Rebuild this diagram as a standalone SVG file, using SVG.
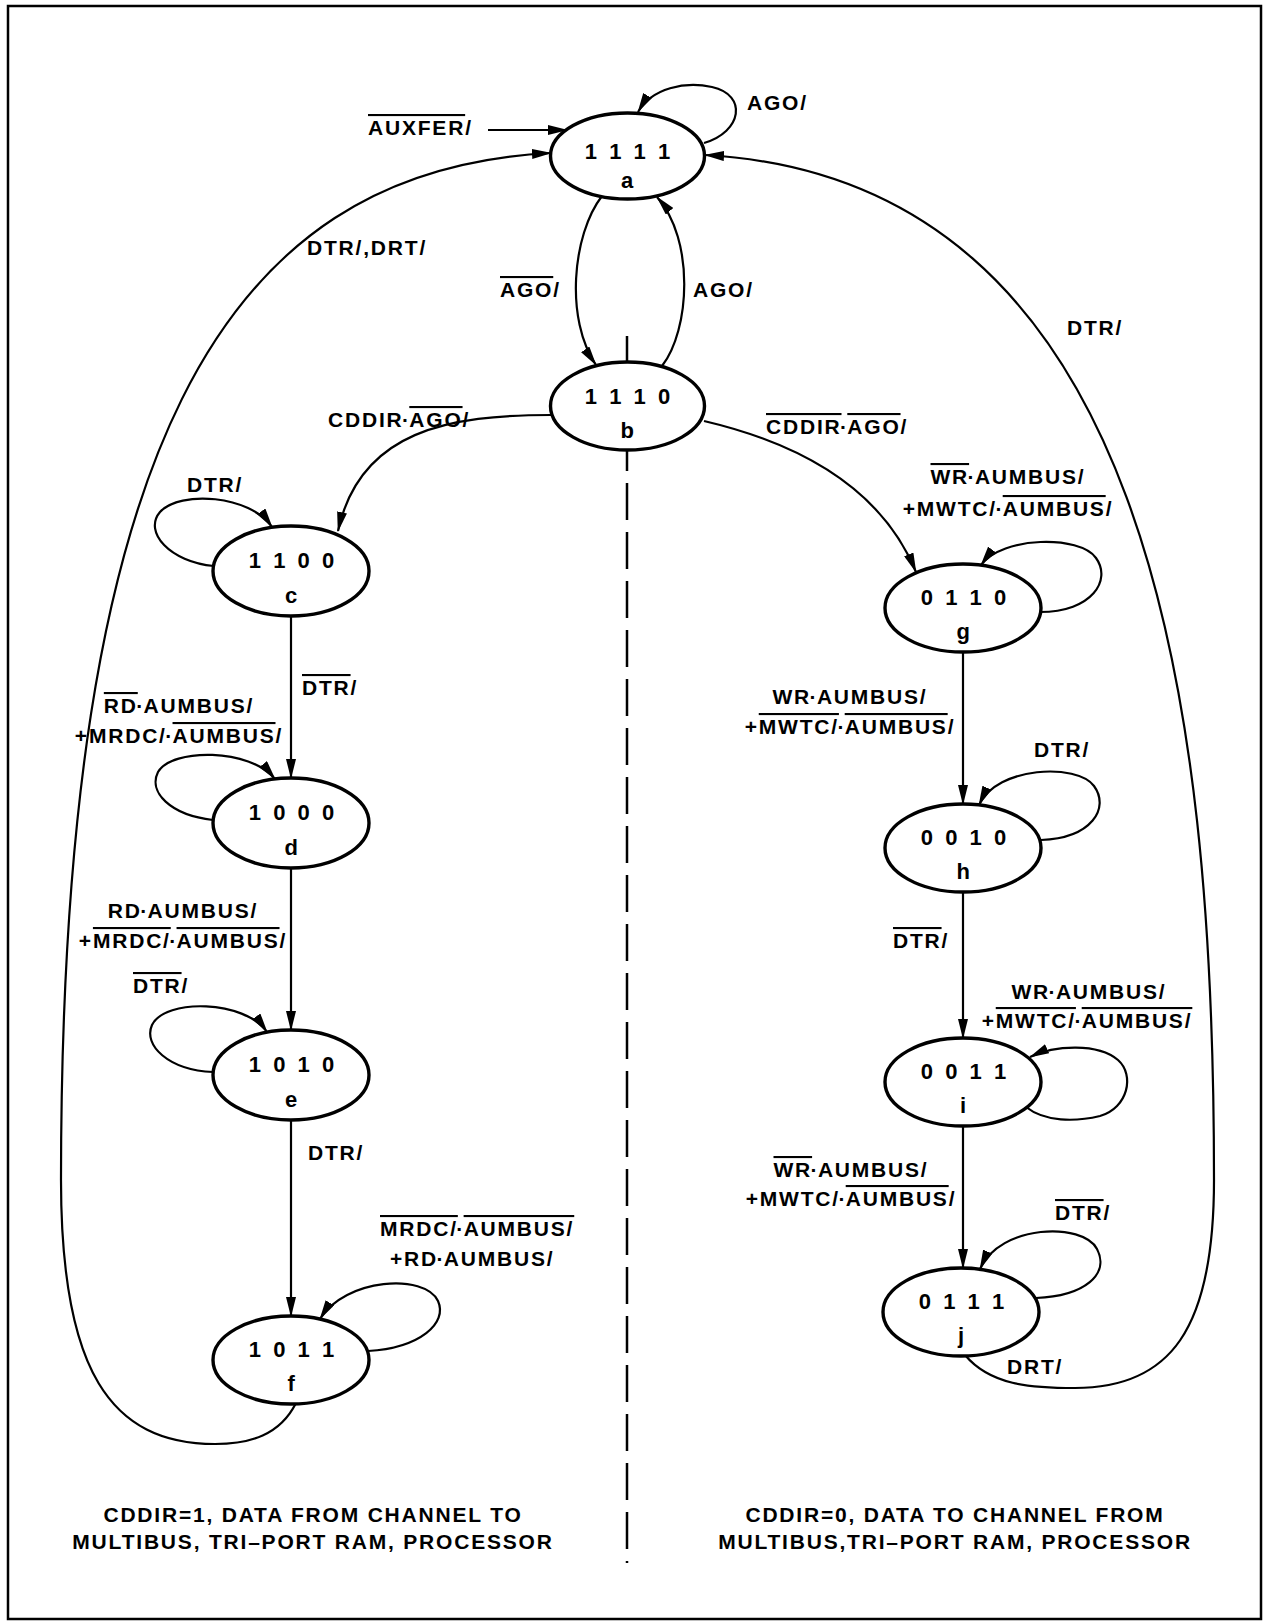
<svg xmlns="http://www.w3.org/2000/svg" width="1264" height="1622" viewBox="0 0 1264 1622">
<defs>
<marker id="ah" markerUnits="userSpaceOnUse" markerWidth="20" markerHeight="10" refX="19" refY="5" orient="auto">
<path d="M0,0 L20,5 L0,10 z" fill="#000"/>
</marker>
<style>
.n{fill:#fff;stroke:#000;stroke-width:3.4}
.e{fill:none;stroke:#000;stroke-width:2.2;marker-end:url(#ah)}
.t{font-family:"Liberation Sans",Arial,Helvetica,sans-serif;font-weight:bold;font-size:21px;letter-spacing:1.8px;fill:#000}
.d{font-size:22px;letter-spacing:3px}
.l{font-size:22px}
.m{text-anchor:middle}
.o{text-decoration:overline}
</style>
</defs>
<rect width="1264" height="1622" fill="#fff"/>
<rect x="8" y="6" width="1253" height="1613" fill="none" stroke="#000" stroke-width="2.5"/>
<g id="divider">
<line x1="627" y1="336" x2="627" y2="1563" stroke="#000" stroke-width="2.5" stroke-dasharray="37 12"/>
</g>
<g id="connectors">
<line class="e" x1="488" y1="130" x2="567" y2="130"/>
<text class="t" x="368" y="135"><tspan class="o">AUXFER</tspan>/</text>
<path class="e" d="M704,143 C742,132 748,95 712,87 C685,81 652,88 638,112"/>
<text class="t" x="747" y="110">AGO/</text>
<path class="e" d="M602,196 C572,235 565,320 596,365"/>
<text class="t" x="500" y="297"><tspan class="o">AGO</tspan>/</text>
<path class="e" d="M662,366 C690,330 695,240 657,197"/>
<text class="t" x="693" y="297">AGO/</text>
<path class="e" d="M551,415 C450,415 360,430 338,531"/>
<text class="t" x="328" y="427">CDDIR<tspan dx="-1.5">·</tspan><tspan class="o" dx="-1.5">AGO</tspan>/</text>
<path class="e" d="M704,421 C785,440 878,480 916,572"/>
<text class="t" x="766" y="434"><tspan class="o">CDDIR</tspan><tspan dx="-1.5">·</tspan><tspan class="o" dx="-1.5">AGO</tspan>/</text>
<path class="e" d="M296,1403 C280,1435 250,1444 215,1444 C110,1444 61,1370 61,1180 C61,450 220,170 551,153"/>
<text class="t" x="307" y="255">DTR/,DRT/</text>
<path class="e" d="M965,1355 C990,1385 1030,1388 1075,1388 C1170,1388 1214,1330 1214,1180 C1214,700 1150,180 705,155"/>
<text class="t" x="1067" y="335">DTR/</text>
<text class="t" x="1007" y="1374">DRT/</text>
<path class="e" d="M214,566 C170,562 143,532 160,512 C180,490 250,495 272,527"/>
<text class="t" x="187" y="492">DTR/</text>
<line class="e" x1="291" y1="616" x2="291" y2="778"/>
<text class="t" x="302" y="695"><tspan class="o">DTR</tspan>/</text>
<path class="e" d="M213,820 C170,815 148,792 158,772 C172,748 250,748 275,779"/>
<text class="t m" x="179" y="713"><tspan class="o">RD</tspan><tspan dx="-1.5">·</tspan><tspan dx="-1.5">AUMBUS/</tspan></text>
<text class="t m" x="179" y="743">+MRDC/<tspan dx="-1.5">·</tspan><tspan class="o" dx="-1.5">AUMBUS</tspan>/</text>
<line class="e" x1="291" y1="868" x2="291" y2="1030"/>
<text class="t m" x="183" y="918">RD<tspan dx="-1.5">·</tspan><tspan dx="-1.5">AUMBUS/</tspan></text>
<text class="t m" x="183" y="948">+<tspan class="o">MRDC/</tspan><tspan dx="-1.5">·</tspan><tspan class="o" dx="-1.5">AUMBUS</tspan>/</text>
<path class="e" d="M213,1072 C168,1070 143,1045 152,1025 C165,998 245,1000 267,1032"/>
<text class="t" x="133" y="993"><tspan class="o">DTR</tspan>/</text>
<line class="e" x1="291" y1="1120" x2="291" y2="1316"/>
<text class="t" x="308" y="1160">DTR/</text>
<path class="e" d="M368,1351 C420,1348 448,1323 438,1301 C425,1273 345,1278 320,1319"/>
<text class="t" x="380" y="1236"><tspan class="o">MRDC/</tspan><tspan dx="-1.5">·</tspan><tspan class="o" dx="-1.5">AUMBUS/</tspan></text>
<text class="t" x="390" y="1266">+RD<tspan dx="-1.5">·</tspan><tspan dx="-1.5">AUMBUS/</tspan></text>
<path class="e" d="M1040,612 C1092,612 1112,580 1096,558 C1080,535 1002,536 981,565"/>
<text class="t m" x="1008" y="484"><tspan class="o">WR</tspan><tspan dx="-1.5">·</tspan><tspan dx="-1.5">AUMBUS/</tspan></text>
<text class="t m" x="1008" y="516">+MWTC/<tspan dx="-1.5">·</tspan><tspan class="o" dx="-1.5">AUMBUS</tspan>/</text>
<line class="e" x1="963" y1="652" x2="963" y2="804"/>
<text class="t m" x="850" y="704">WR<tspan dx="-1.5">·</tspan><tspan dx="-1.5">AUMBUS/</tspan></text>
<text class="t m" x="850" y="734">+<tspan class="o">MWTC/</tspan><tspan dx="-1.5">·</tspan><tspan class="o" dx="-1.5">AUMBUS</tspan>/</text>
<path class="e" d="M1041,840 C1092,838 1110,808 1094,786 C1077,763 997,766 979,805"/>
<text class="t" x="1034" y="757">DTR/</text>
<line class="e" x1="963" y1="892" x2="963" y2="1038"/>
<text class="t" x="893" y="948"><tspan class="o">DTR</tspan>/</text>
<path class="e" d="M1026,1107 C1045,1122 1075,1122 1100,1116 C1128,1108 1135,1075 1118,1060 C1098,1043 1055,1045 1030,1057"/>
<text class="t m" x="1089" y="999">WR<tspan dx="-1.5">·</tspan><tspan dx="-1.5">AUMBUS/</tspan></text>
<text class="t m" x="1087" y="1028">+<tspan class="o">MWTC/</tspan><tspan dx="-1.5">·</tspan><tspan class="o" dx="-1.5">AUMBUS/</tspan></text>
<line class="e" x1="963" y1="1126" x2="963" y2="1268"/>
<text class="t m" x="851" y="1177"><tspan class="o">WR</tspan><tspan dx="-1.5">·</tspan><tspan dx="-1.5">AUMBUS/</tspan></text>
<text class="t m" x="851" y="1206">+MWTC/<tspan dx="-1.5">·</tspan><tspan class="o" dx="-1.5">AUMBUS</tspan>/</text>
<path class="e" d="M1036,1298 C1085,1296 1110,1274 1097,1249 C1083,1222 1000,1224 980,1269"/>
<text class="t" x="1055" y="1220"><tspan class="o">DTR</tspan>/</text>
</g>
<g id="node-a"><ellipse class="n" cx="627.5" cy="156" rx="77" ry="43"/><text class="t d m" x="629" y="159">1 1 1 1</text><text class="t l m" x="628" y="188">a</text></g>
<g id="node-b"><ellipse class="n" cx="627.5" cy="406" rx="77" ry="44"/><text class="t d m" x="629" y="404">1 1 1 0</text><text class="t l m" x="628" y="438">b</text></g>
<g id="node-c"><ellipse class="n" cx="291" cy="571" rx="78" ry="45"/><text class="t d m" x="293" y="568">1 1 0 0</text><text class="t l m" x="292" y="603">c</text></g>
<g id="node-d"><ellipse class="n" cx="291" cy="823" rx="78" ry="45"/><text class="t d m" x="293" y="820">1 0 0 0</text><text class="t l m" x="292" y="855">d</text></g>
<g id="node-e"><ellipse class="n" cx="291" cy="1075" rx="78" ry="45"/><text class="t d m" x="293" y="1072">1 0 1 0</text><text class="t l m" x="292" y="1107">e</text></g>
<g id="node-f"><ellipse class="n" cx="291" cy="1360" rx="78" ry="44"/><text class="t d m" x="293" y="1357">1 0 1 1</text><text class="t l m" x="292" y="1391">f</text></g>
<g id="node-g"><ellipse class="n" cx="963" cy="608" rx="78" ry="44"/><text class="t d m" x="965" y="605">0 1 1 0</text><text class="t l m" x="964" y="639">g</text></g>
<g id="node-h"><ellipse class="n" cx="963" cy="848" rx="78" ry="44"/><text class="t d m" x="965" y="845">0 0 1 0</text><text class="t l m" x="964" y="879">h</text></g>
<g id="node-i"><ellipse class="n" cx="963" cy="1082" rx="78" ry="44"/><text class="t d m" x="965" y="1079">0 0 1 1</text><text class="t l m" x="964" y="1113">i</text></g>
<g id="node-j"><ellipse class="n" cx="961" cy="1312" rx="78" ry="44"/><text class="t d m" x="963" y="1309">0 1 1 1</text><text class="t l m" x="962" y="1343">j</text></g>
<g id="captions">
<text class="t m" x="313" y="1522">CDDIR=1, DATA FROM CHANNEL TO</text>
<text class="t m" x="313" y="1549">MULTIBUS, TRI–PORT RAM, PROCESSOR</text>
<text class="t m" x="955" y="1522">CDDIR=0, DATA TO CHANNEL FROM</text>
<text class="t m" x="955" y="1549">MULTIBUS,TRI–PORT RAM, PROCESSOR</text>
</g>
</svg>
